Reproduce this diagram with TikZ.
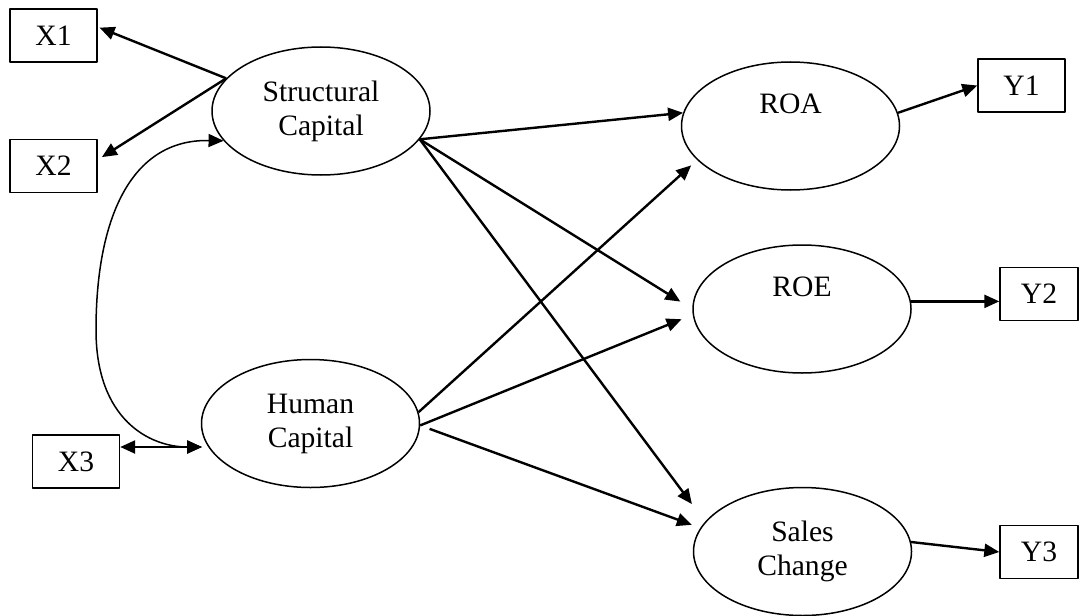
\documentclass[tikz,border=0pt]{standalone}
\usepackage{fontspec}
\setmainfont{Liberation Serif}
\usetikzlibrary{shapes.geometric,arrows.meta}
\begin{document}
\begin{tikzpicture}[x=0.5pt,y=-0.5pt,line join=round,>={Triangle[length=7.5pt,width=6.5pt]},font=\fontsize{14.8}{17}\selectfont,
		lat/.style={ellipse,draw,line width=.75pt,minimum width=109pt,minimum height=64pt,inner sep=0pt,align=center},
		obs/.style={rectangle,draw,line width=.7pt,minimum width=43.5pt,minimum height=26.5pt,inner sep=0pt},
		eff/.style={->,line width=1.2pt}]
			\useasboundingbox (0,0) rectangle (1079,615);
			\node[obs] (x1) at (53.5,35.5) {X1};
			\node[obs] (x2) at (53.5,166) {X2};
			\node[obs] (x3) at (76,461.5) {X3};
			\node[obs] (y1) at (1021.5,85.5) {Y1};
			\node[obs,minimum width=39pt] (y2) at (1039,294) {Y2};
			\node[obs,minimum width=39pt] (y3) at (1039,552) {Y3};
			\node[lat] (sc) at (321,111) {Structural\\Capital};
			\node[lat] (hc) at (310.5,423.5) {Human\\Capital};
			\node[lat] (roa) at (790.5,126) {ROA\\\strut};
			\node[lat] (roe) at (802,309) {ROE\\\strut};
			\node[lat] (sch) at (802.5,551.5) {Sales\\Change};
			\coordinate (hcw) at (202,447);
			
			\draw[eff,shorten >=1pt] (sc.161) -- (x1.11);
			\draw[eff,shorten >=2.5pt] (sc.161) -- (x2.8);
			\draw[<->,line width=1.2pt] (x3.east|-hcw) -- (hcw);
			\draw[<->,line width=.75pt] (sc.197) .. controls (130,139) and (96,220) .. (96,330) 
				.. controls (96,420) and (150,447) .. (hcw);
			
			\draw[eff] (sc.-16) -- (roa.173);
			\draw[eff,shorten >=7pt] (sc.-16) -- (roe.west);
			\draw[eff,shorten >=11pt] (sc.-16) -- (sch.163);
			\draw[eff,shorten >=4pt] (hc.6) -- (roa.200);
			\draw[eff,shorten >=6pt] (hc.-1) -- (roe.183);
			\draw[eff,shorten <=5pt,shorten >=4.5pt] (hc.-1) -- (sch.167);
			
			\draw[eff] (roa.7) -- (y1.west);
			\draw[eff] (roe.4) -- (roe.4-|y2.west);
			\draw[eff] (sch.5) -- (y3.west);
	\end{tikzpicture}
\end{document}
